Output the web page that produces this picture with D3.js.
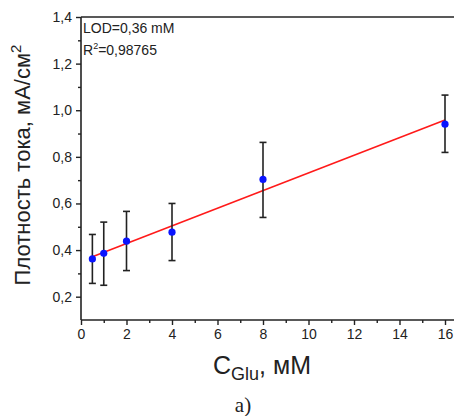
<!DOCTYPE html>
<html>
<head>
<meta charset="utf-8">
<script src="https://cdn.jsdelivr.net/npm/d3@7"></script>
<style>
  body { margin: 0; background: #fff; }
  svg { display: block; }
  text { font-family: "Liberation Sans", Arial, sans-serif; fill: #222; }
</style>
</head>
<body>
<svg width="454" height="416"></svg>
<script>
// data
var conc = [0.5, 1, 2, 4, 8, 16];
var density = [0.362, 0.386, 0.438, 0.477, 0.703, 0.940];
var errLow = [0.257, 0.249, 0.312, 0.355, 0.540, 0.819];
var errHigh = [0.467, 0.520, 0.566, 0.600, 0.862, 1.065];
var xTicks = [0, 2, 4, 6, 8, 10, 12, 14, 16];
var yTicks = [0.2, 0.4, 0.6, 0.8, 1.0, 1.2, 1.4];
var notes = ["LOD=0,36 mM", "R2=0,98765"];

var svg = d3.select("svg"),
	width = +svg.attr("width"),
	height = +svg.attr("height");

var x = d3.scaleLinear().domain([0, 16]).range([81, 445]);
var y = d3.scaleLinear().domain([0.1, 1.4]).range([320, 17]);

var fmt = function(d) { return d3.format(".1f")(d).replace(".", ","); };

// least squares fit through the means
var mx = d3.mean(conc), my = d3.mean(density);
var sxy = d3.sum(conc, function(c, i) { return (c - mx) * (density[i] - my); });
var sxx = d3.sum(conc, function(c) { return (c - mx) * (c - mx); });
var slope = sxy / sxx, intercept = my - slope * mx;

// minor ticks
var xMinor = d3.range(1, 17, 2);
var yMinor = d3.range(0.3, 1.4, 0.2);

var gx = svg.append("g").attr("transform", "translate(0," + y(0.1) + ")")
	.call(d3.axisBottom(x).tickValues(xTicks).tickFormat(d3.format("d")).tickSize(5).tickPadding(4));
svg.append("g").attr("transform", "translate(0," + y(0.1) + ")")
	.call(d3.axisBottom(x).tickValues(xMinor).tickFormat("").tickSize(3))
	.select(".domain").remove();

var gy = svg.append("g").attr("transform", "translate(" + x(0) + ",0)")
	.call(d3.axisLeft(y).tickValues(yTicks).tickFormat(fmt).tickSize(5).tickPadding(4));
svg.append("g").attr("transform", "translate(" + x(0) + ",0)")
	.call(d3.axisLeft(y).tickValues(yMinor).tickFormat("").tickSize(3))
	.select(".domain").remove();

svg.selectAll(".domain").attr("stroke", "#222").attr("stroke-width", 1.6);
svg.selectAll(".tick line").attr("stroke", "#222").attr("stroke-width", 1.4);
svg.selectAll(".tick text").style("font-size", "14px").attr("fill", "#222");
gx.select(".domain").attr("d", "M" + x(0) + ",0H" + width);
gy.select(".domain").attr("d", "M0," + y(0.1) + "V" + y(1.4));

// top frame line
svg.append("line")
	.attr("x1", x(0)).attr("x2", width)
	.attr("y1", y(1.4)).attr("y2", y(1.4))
	.attr("stroke", "#222").attr("stroke-width", 1.6);

// fit line
svg.append("line")
	.attr("x1", x(conc[0])).attr("y1", y(intercept + slope * conc[0]))
	.attr("x2", x(16)).attr("y2", y(intercept + slope * 16))
	.attr("stroke", "#ff1a1a").attr("stroke-width", 1.6);

// error bars
var bars = svg.append("g").selectAll("g").data(conc).enter().append("g")
	.attr("stroke", "#222").attr("stroke-width", 1.6);
bars.append("line")
	.attr("x1", function(d) { return x(d); }).attr("x2", function(d) { return x(d); })
	.attr("y1", function(d, i) { return y(errLow[i]); })
	.attr("y2", function(d, i) { return y(errHigh[i]); });
bars.append("line")
	.attr("x1", function(d) { return x(d) - 3.5; }).attr("x2", function(d) { return x(d) + 3.5; })
	.attr("y1", function(d, i) { return y(errLow[i]); })
	.attr("y2", function(d, i) { return y(errLow[i]); });
bars.append("line")
	.attr("x1", function(d) { return x(d) - 3.5; }).attr("x2", function(d) { return x(d) + 3.5; })
	.attr("y1", function(d, i) { return y(errHigh[i]); })
	.attr("y2", function(d, i) { return y(errHigh[i]); });

// points
svg.append("g").selectAll("circle").data(conc).enter().append("circle")
	.attr("cx", function(d) { return x(d); })
	.attr("cy", function(d, i) { return y(density[i]); })
	.attr("r", 3.6)
	.attr("fill", "#0a14ff");

// notes
svg.append("text").attr("x", 83).attr("y", 33).style("font-size", "14px").text(notes[0]);
var r2 = svg.append("text").attr("x", 83).attr("y", 55).style("font-size", "14px");
r2.append("tspan").text("R");
r2.append("tspan").attr("dy", -6).style("font-size", "9px").text("2");
r2.append("tspan").attr("dy", 6).text(notes[1].slice(2));

// axis titles
var xt = svg.append("text").attr("x", 262).attr("y", 374)
	.attr("text-anchor", "middle").style("font-size", "25px");
xt.append("tspan").text("C");
xt.append("tspan").attr("dy", 6).style("font-size", "18px").text("Glu");
xt.append("tspan").attr("dy", -6).text(", мМ");

var yt = svg.append("text")
	.attr("transform", "translate(30,165) rotate(-90)")
	.attr("text-anchor", "middle").style("font-size", "22px");
yt.append("tspan").text("Плотность тока, мА/см");
yt.append("tspan").attr("dy", -9).style("font-size", "15px").text("2");

svg.append("text").attr("x", 243).attr("y", 412)
	.attr("text-anchor", "middle")
	.style("font-family", "'Liberation Serif', 'Times New Roman', serif")
	.style("font-size", "21px")
	.text("a)");
</script>
</body>
</html>
